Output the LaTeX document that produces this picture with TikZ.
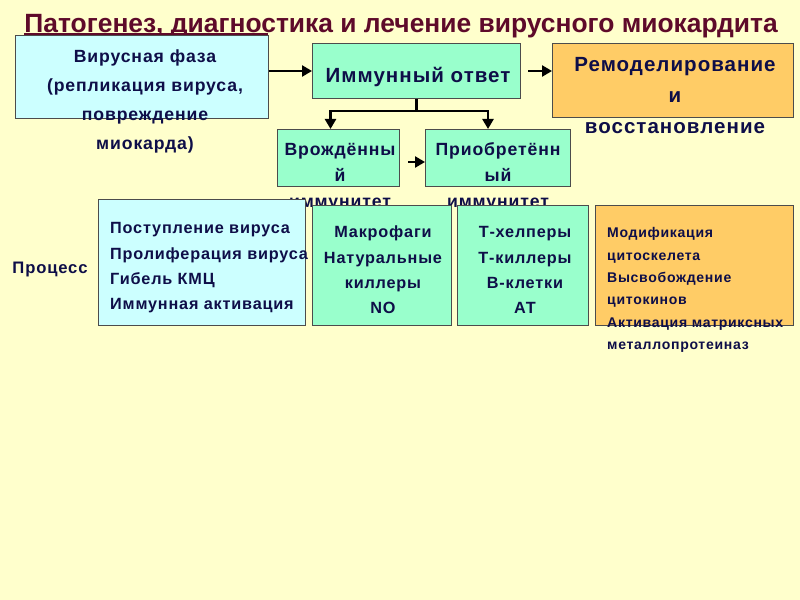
\documentclass[tikz,border=0pt]{standalone}
\usepackage{fontspec}
\setmainfont{Liberation Sans}[LetterSpace=5]
\usepackage{tikz}
\usetikzlibrary{positioning, arrows.meta}

\definecolor{bgyel}{HTML}{FFFFCC}
\definecolor{cyanf}{HTML}{CCFFFF}
\definecolor{mintf}{HTML}{99FFCC}
\definecolor{orangef}{HTML}{FFCC66}
\definecolor{navy}{HTML}{0E0E48}
\definecolor{maroon}{HTML}{5E0A2A}

\begin{document}
\begin{tikzpicture}[
    x=1bp, y=-1bp,
    font=\bfseries,
    box/.style={draw=black!70, line width=1bp, inner sep=0pt, anchor=north west},
    cyanbox/.style={box, fill=cyanf},
    mintbox/.style={box, fill=mintf},
    orbox/.style={box, fill=orangef},
    lbl/.style={text=navy, inner sep=0pt, anchor=base},
    lleft/.style={lbl, anchor=base west},
    conn/.style={draw=black, line width=2.5bp, -{Triangle[length=10bp, width=11bp]}}
]
% page
\fill[bgyel] (0,0) rectangle (800,600);
\useasboundingbox (0,0) rectangle (800,600);
% title
\node[lbl, text=maroon, font=\fontsize{26.5}{26}\selectfont\bfseries\addfontfeature{LetterSpace=0}] (title) at (401,33) {Патогенез, диагностика и лечение вирусного миокардита};
% viral phase
\draw[maroon, line width=2bp] ([yshift=-1bp]title.base west) -- ([yshift=-1bp]title.base west -| 268,0);
\node[cyanbox, minimum width=253bp, minimum height=83bp] (vir) at (15,35) {};
\foreach \t [count=\k] in {Вирусная фаза, {(репликация вируса,}, повреждение, миокарда)}{
  \node[lbl, font=\fontsize{17.7}{20}\selectfont\bfseries] (v\k) at (145, {63+28.7*(\k-1)}) {\t};}
% immune response
\node[mintbox, minimum width=208bp, minimum height=55bp] (imm) at (312,43) {};
\node[lbl, font=\fontsize{20.6}{20}\selectfont\bfseries] (immt) at (418,83) {Иммунный ответ};
% remodelling
\node[orbox, minimum width=241bp, minimum height=74bp] (rem) at (552,43) {};
\foreach \t [count=\k] in {Ремоделирование, и, восстановление}{
  \node[lbl, font=\fontsize{20.6}{20}\selectfont\bfseries] (r\k) at (675, {72+31*(\k-1)}) {\t};}
% innate and acquired immunity
\node[mintbox, minimum width=122bp, minimum height=57bp] (inn) at (277,129) {};
\node[mintbox, minimum width=145bp, minimum height=57bp] (acq) at (425,129) {};
\foreach \t [count=\k] in {Врождённы, й, иммунитет}{
  \node[lbl, font=\fontsize{17.7}{20}\selectfont\bfseries] (i\k) at (340, {156+26*(\k-1)}) {\t};}
\foreach \t [count=\k] in {Приобретённ, ый, иммунитет}{
  \node[lbl, font=\fontsize{17.7}{20}\selectfont\bfseries] (a\k) at (498, {156+26*(\k-1)}) {\t};}
% connections
\draw[conn] (vir.east |- imm.west) -- (imm.west);
\draw[conn] ([xshift=7bp]imm.east) -- (rem.west |- imm.east);
\draw[line width=2.5bp] (imm.south) -- ++(0,12) coordinate (split);
\draw[conn] (split) -| ([xshift=-8bp]inn.north);
\draw[conn] (split) -| ([xshift=-10bp]acq.north);
\draw[conn] ([xshift=8bp, yshift=-4bp]inn.east) -- ([yshift=-4bp]acq.west);
% process row
\node[lbl, font=\fontsize{16.7}{20}\selectfont\bfseries] (proc) at (50,273) {Процесс};
\node[cyanbox, minimum width=207bp, minimum height=126bp] (pbox) at (98,199) {};
\foreach \t [count=\k] in {Поступление вируса, Пролиферация вируса, Гибель КМЦ, Иммунная активация}{
  \node[lleft, font=\fontsize{16.3}{20}\selectfont\bfseries] (p\k) at (110, {234+25.3*(\k-1)}) {\t};}
\node[mintbox, minimum width=139bp, minimum height=120bp] (mac) at (312,205) {};
\foreach \t [count=\k] in {Макрофаги, Натуральные, киллеры, NO}{
  \node[lbl, font=\fontsize{16.3}{20}\selectfont\bfseries] (m\k) at (383, {238+25.3*(\k-1)}) {\t};}
\node[mintbox, minimum width=131bp, minimum height=120bp] (thl) at (457,205) {};
\foreach \t [count=\k] in {Т-хелперы, Т-киллеры, В-клетки, АТ}{
  \node[lbl, font=\fontsize{16.3}{20}\selectfont\bfseries] (t\k) at (525, {238+25.3*(\k-1)}) {\t};}
\node[orbox, minimum width=198bp, minimum height=120bp] (mod) at (595,205) {};
\foreach \t [count=\k] in {Модификация, цитоскелета, Высвобождение, цитокинов, Активация матриксных, металлопротеиназ}{
  \node[lleft, font=\fontsize{14.1}{16}\selectfont\bfseries] (d\k) at (607, {238+22.3*(\k-1)}) {\t};}
\end{tikzpicture}
\end{document}
